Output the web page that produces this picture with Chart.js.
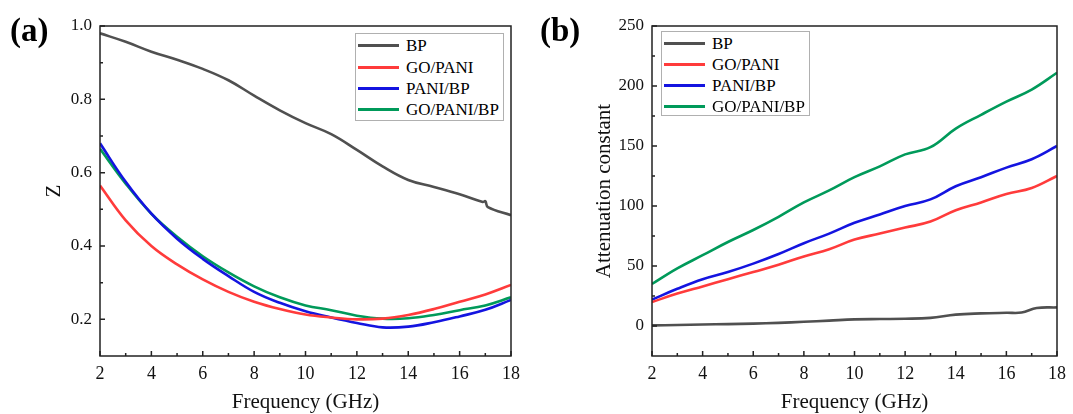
<!DOCTYPE html>
<html>
<head>
<meta charset="utf-8">
<script src="https://cdn.jsdelivr.net/npm/chart.js@4.4.0/dist/chart.umd.min.js"></script>
<style>
  body { margin: 0; background: #fff; }
  #page { position: relative; width: 1073px; height: 414px; overflow: hidden; font-family: 'Liberation Serif', serif; }
  .cv { position: absolute; top: 0; }
  .panel { position: absolute; font-weight: bold; font-size: 33px; line-height: 33px; }
  .legend { position: absolute; border: 1px solid #b0b0b0; background: #fff; box-sizing: border-box; }
  .row { position: absolute; left: 0; height: 21px; font-size: 17px; line-height: 21px; white-space: nowrap; }
  .row span.ln { position: absolute; top: 9px; height: 3px; width: 41px; left: 2px; }
  .row span.tx { position: absolute; left: 50px; top: 0; }
</style>
</head>
<body>
<div id="page">
  <div class="cv" style="left:0;width:536px;height:414px;"><canvas id="chartA"></canvas></div>
  <div class="cv" style="left:536px;width:537px;height:414px;"><canvas id="chartB"></canvas></div>
  <div class="panel" style="left:10px;top:14px;">(a)</div>
  <div class="panel" style="left:540px;top:14px;">(b)</div>
  <div class="legend" id="legA" style="left:355px;top:33px;width:149px;height:88px;"></div>
  <div class="legend" id="legB" style="left:661px;top:31px;width:149px;height:85px;"></div>
</div>
<script>
// Données
var labels = ['BP', 'GO/PANI', 'PANI/BP', 'GO/PANI/BP'];
var colors = ['#505050', '#ff3b3b', '#1414e0', '#009a5a'];

var freq = [2, 3, 4, 5, 6, 7, 8, 9, 10, 11, 12, 13, 14, 15, 16, 17, 18];

// (a) Z
var freqBpA = [2, 3, 4, 5, 6, 7, 8, 9, 10, 11, 12, 13, 14, 15, 16, 16.9, 17, 17.1, 18];
var zBp = [0.980, 0.957, 0.930, 0.908, 0.883, 0.852, 0.810, 0.770, 0.735, 0.705, 0.662, 0.617, 0.580, 0.561, 0.541, 0.520, 0.522, 0.506, 0.484];
var zGoPani = [0.565, 0.470, 0.400, 0.350, 0.309, 0.275, 0.248, 0.228, 0.213, 0.205, 0.200, 0.202, 0.212, 0.228, 0.248, 0.268, 0.294];
var zPaniBp = [0.680, 0.575, 0.488, 0.420, 0.365, 0.318, 0.275, 0.245, 0.222, 0.205, 0.190, 0.178, 0.180, 0.192, 0.208, 0.226, 0.253];
var zGoPaniBp = [0.665, 0.570, 0.488, 0.425, 0.372, 0.328, 0.290, 0.260, 0.238, 0.225, 0.210, 0.202, 0.203, 0.212, 0.225, 0.238, 0.260];

// (b) constante d'atténuation
var freqBpB = [2, 3, 4, 5, 6, 7, 8, 9, 10, 11, 12, 13, 14, 15, 16, 16.6, 17.2, 18];
var aBp = [0.5, 0.8, 1.2, 1.6, 2.0, 2.6, 3.5, 4.5, 5.5, 5.8, 6.0, 6.8, 9.5, 10.5, 11.0, 11.2, 15.0, 15.5];
var aGoPani = [20, 27, 33, 39, 45, 51, 58, 64, 72, 77, 82, 87, 96.5, 103, 110, 115, 125];
var aPaniBp = [22, 31, 39, 45, 52, 60, 69, 77, 86, 93, 100, 105.5, 116.5, 124, 132, 139, 150];
var aGoPaniBp = [35, 48, 59, 70, 80, 91, 103, 113, 124, 133, 143, 149, 164.5, 176, 187, 197, 211];

// Graduations
var xTicks = [2, 4, 6, 8, 10, 12, 14, 16, 18];
var xMinor = [3, 5, 7, 9, 11, 13, 15, 17];
var yTicksA = [0.2, 0.4, 0.6, 0.8, 1.0];
var yMinorA = [0.3, 0.5, 0.7, 0.9];
var yTicksB = [0, 50, 100, 150, 200, 250];
var yMinorB = [25, 75, 125, 175, 225];

function pts(xs, ys) {
    return ys.map(function (v, i) { return { x: xs[i], y: v }; });
}

// Cadre et graduations vers l'intérieur
var framePlugin = {
    id: 'frame',
    afterDraw: function (chart, args, opts) {
        var ctx = chart.ctx, a = chart.chartArea;
        var sx = chart.scales.x, sy = chart.scales.y;
        ctx.save();
        ctx.strokeStyle = '#222';
        ctx.lineWidth = 1.5;
        ctx.strokeRect(a.left, a.top, a.right - a.left, a.bottom - a.top);
        ctx.beginPath();
        opts.xMajor.forEach(function (v) { var p = sx.getPixelForValue(v); ctx.moveTo(p, a.bottom); ctx.lineTo(p, a.bottom - 5); });
        opts.xMinor.forEach(function (v) { var p = sx.getPixelForValue(v); ctx.moveTo(p, a.bottom); ctx.lineTo(p, a.bottom - 3); });
        opts.yMajor.forEach(function (v) { var p = sy.getPixelForValue(v); ctx.moveTo(a.left, p); ctx.lineTo(a.left + 5, p); });
        opts.yMinor.forEach(function (v) { var p = sy.getPixelForValue(v); ctx.moveTo(a.left, p); ctx.lineTo(a.left + 3, p); });
        ctx.stroke();
        ctx.restore();
    }
};

function makeChart(id, series, yMin, yMax, yTicks, yMinor, yTitle, yFmt, yAxisWidth, padRight, titlePad) {
    var ds = series.map(function (s, i) {
        return {
            label: labels[i],
            data: s,
            borderColor: colors[i],
            borderWidth: 2.6,
            pointRadius: 0,
            fill: false,
            tension: 0.4
        };
    });
    return new Chart(document.getElementById(id), {
        type: 'line',
        data: { datasets: ds },
        options: {
            responsive: true,
            maintainAspectRatio: false,
            animation: false,
            layout: { padding: { top: 26, right: padRight, left: 0, bottom: 0 } },
            plugins: {
                legend: { display: false },
                tooltip: { enabled: false },
                frame: { xMajor: xTicks, xMinor: xMinor, yMajor: yTicks, yMinor: yMinor }
            },
            scales: {
                x: {
                    type: 'linear',
                    min: 2, max: 18,
                    grid: { display: false, drawTicks: false },
                    border: { display: false },
                    afterBuildTicks: function (scale) { scale.ticks = xTicks.map(function (v) { return { value: v }; }); },
                    afterFit: function (scale) { scale.height = 58; },
                    ticks: { color: '#111', padding: 7, maxRotation: 0, font: { family: 'Liberation Serif', size: 18 } },
                    title: { display: true, text: 'Frequency (GHz)', color: '#111', padding: { top: 0, bottom: 1 }, font: { family: 'Liberation Serif', size: 21, lineHeight: 1 } }
                },
                y: {
                    min: yMin, max: yMax,
                    grid: { display: false, drawTicks: false },
                    border: { display: false },
                    afterBuildTicks: function (scale) { scale.ticks = yTicks.map(function (v) { return { value: v }; }); },
                    afterFit: function (scale) { scale.width = yAxisWidth; },
                    ticks: { color: '#111', padding: 8, font: { family: 'Liberation Serif', size: 17 }, callback: yFmt },
                    title: { display: true, text: yTitle, color: '#111', padding: { top: titlePad, bottom: 0 }, font: { family: 'Liberation Serif', size: 21, lineHeight: 1 } }
                }
            }
        },
        plugins: [framePlugin]
    });
}

makeChart('chartA',
    [pts(freqBpA, zBp), pts(freq, zGoPani), pts(freq, zPaniBp), pts(freq, zGoPaniBp)],
    0.1, 1.0, yTicksA, yMinorA, 'Z',
    function (v) { return v.toFixed(1); }, 100, 25, 44);

makeChart('chartB',
    [pts(freqBpB, aBp), pts(freq, aGoPani), pts(freq, aPaniBp), pts(freq, aGoPaniBp)],
    -25, 250, yTicksB, yMinorB, 'Attenuation constant',
    function (v) { return String(v); }, 116, 10, 58);

// Légendes HTML
function buildLegend(id, rowsY) {
    var box = document.getElementById(id);
    labels.forEach(function (lab, i) {
        var row = document.createElement('div');
        row.className = 'row';
        row.style.top = rowsY[i] + 'px';
        row.style.width = '100%';
        var ln = document.createElement('span');
        ln.className = 'ln';
        ln.style.background = colors[i];
        var tx = document.createElement('span');
        tx.className = 'tx';
        tx.textContent = lab;
        row.appendChild(ln);
        row.appendChild(tx);
        box.appendChild(row);
    });
}
buildLegend('legA', [1, 23, 44, 65]);
buildLegend('legB', [1, 22, 43, 64]);
</script>
</body>
</html>
